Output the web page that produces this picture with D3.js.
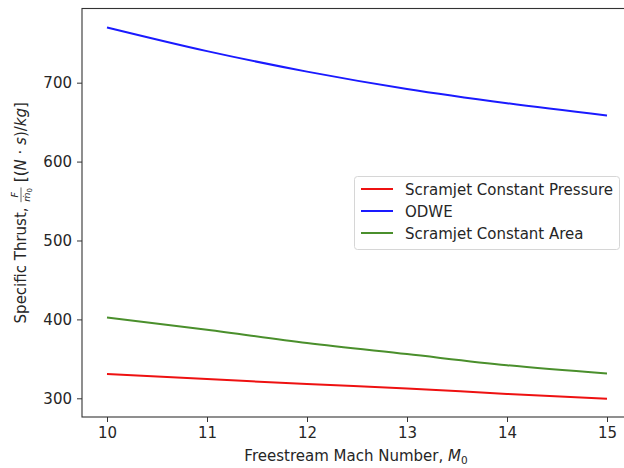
<!DOCTYPE html>
<html><head><meta charset="utf-8">
<script src="https://cdn.jsdelivr.net/npm/d3@7"></script>
<style>body{margin:0;background:#fff}svg{display:block}text{font-family:"DejaVu Sans",sans-serif;fill:#262626;white-space:pre}</style>
</head><body><svg id="c" width="624" height="468"></svg>
<script>
const mach = [10, 11, 12, 13, 14, 15];
const scramjetCP = [330.8, 324.5, 318.0, 312.5, 305.5, 299.5];
const odwe = [770, 740, 714, 692, 674, 658.5];
const scramjetCA = [402.5, 387, 370, 356, 342, 331.5];
const xTicks = [10, 11, 12, 13, 14, 15];
const yTicks = [300, 400, 500, 600, 700];
const seriesNames = ["Scramjet Constant Pressure", "ODWE", "Scramjet Constant Area"];
const seriesColors = ["#ee1111", "#1a1aff", "#4a8f2c"];

const FS = 15;
const svg = d3.select("#c");
const L = 82, R = 632, T = 8.5, B = 417;
const x = d3.scaleLinear().domain([9.75, 15.25]).range([L, R]);
const y = d3.scaleLinear().domain([276.3, 794]).range([B, T]);

svg.append("rect").attr("x", L).attr("y", T).attr("width", R - L).attr("height", B - T)
  .attr("fill", "none").attr("stroke", "#333").attr("stroke-width", 1.1);

const xa = svg.append("g").attr("transform", `translate(0,${B})`)
  .call(d3.axisBottom(x).tickValues(xTicks).tickFormat(d3.format("d")).tickSize(5).tickPadding(5));
const ya = svg.append("g").attr("transform", `translate(${L},0)`)
  .call(d3.axisLeft(y).tickValues(yTicks).tickFormat(d3.format("d")).tickSize(5).tickPadding(5));
[xa, ya].forEach(a => {
  a.select(".domain").remove();
  a.selectAll("line").attr("stroke", "#333").attr("stroke-width", 1);
  a.selectAll("text").attr("font-size", FS).attr("font-family", "DejaVu Sans").attr("fill", "#262626");
});

const data = [scramjetCP, odwe, scramjetCA];
const line = d3.line().x((d, i) => x(mach[i])).y(d => y(d)).curve(d3.curveMonotoneX);
data.forEach((s, k) => {
  svg.append("path").datum(s).attr("d", line).attr("fill", "none")
    .attr("stroke", seriesColors[k]).attr("stroke-width", 2);
});

// x label
const xl = svg.append("text").attr("x", (L + R) / 2 - 1).attr("y", 460.5)
  .attr("text-anchor", "middle").attr("font-size", FS);
xl.append("tspan").text("Freestream Mach Number, ");
xl.append("tspan").attr("font-style", "italic").text("M");
xl.append("tspan").attr("font-size", 10.5).attr("dy", 3).text("0");

// y label
const yl = svg.append("g").attr("transform", `translate(25.5,${(T + B) / 2}) rotate(-90)`);
const parts = [];
function addText(txt, opts) {
  const t = yl.append("text").attr("font-size", opts.size || FS).attr("font-style", opts.italic ? "italic" : "normal").text(txt);
  parts.push({ t, w: t.node().getComputedTextLength() });
  return t;
}
addText("Specific Thrust, ", {});
const fg = yl.append("g");
const fF = fg.append("text").attr("font-size", 9.5).attr("font-style", "italic").text("F");
const fM = fg.append("text").attr("font-size", 9.5).attr("font-style", "italic").text("ṁ");
const f0 = fg.append("text").attr("font-size", 7).text("0");
const wF = fF.node().getComputedTextLength();
const wM = fM.node().getComputedTextLength();
const w0 = f0.node().getComputedTextLength();
const wFrac = Math.max(wF, wM + w0) + 2;
parts.push({ frac: true, w: wFrac });
addText(" [(", {});
addText("N", { italic: true });
addText(" · ", {});
addText("s", { italic: true });
addText(")/", {});
addText("kg", { italic: true });
addText("]", {});
const total = d3.sum(parts, p => p.w);
let cx = -total / 2;
parts.forEach(p => {
  if (p.frac) {
    fF.attr("x", cx + (wFrac - wF) / 2).attr("y", -7.5);
    fM.attr("x", cx + (wFrac - wM - w0) / 2).attr("y", 4.5);
    f0.attr("x", cx + (wFrac - wM - w0) / 2 + wM).attr("y", 6.5);
    fg.append("line").attr("x1", cx + 0.5).attr("x2", cx + wFrac - 0.5).attr("y1", -4.5).attr("y2", -4.5)
      .attr("stroke", "#262626").attr("stroke-width", 0.7);
  } else {
    p.t.attr("x", cx).attr("y", 0);
  }
  cx += p.w;
});

// legend
const lg = svg.append("g");
lg.append("rect").attr("x", 354.5).attr("y", 176.5).attr("width", 265).attr("height", 73).attr("rx", 3)
  .attr("fill", "#fff").attr("fill-opacity", 0.85).attr("stroke", "#d6d6d6").attr("stroke-width", 1);
seriesNames.forEach((n, i) => {
  const yy = 189 + i * 22;
  lg.append("line").attr("x1", 361).attr("x2", 393).attr("y1", yy).attr("y2", yy)
    .attr("stroke", seriesColors[i]).attr("stroke-width", 2);
  lg.append("text").attr("x", 405).attr("y", yy + 5.5).attr("font-size", FS).text(n);
});
</script></body></html>
